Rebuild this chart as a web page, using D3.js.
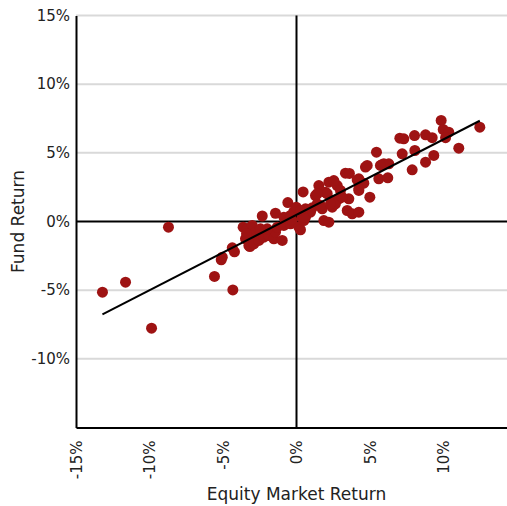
<!DOCTYPE html>
<html>
<head>
<meta charset="utf-8">
<script src="https://cdn.jsdelivr.net/npm/d3@7"></script>
<style>
  body { margin: 0; background: #fff; }
  text { font-family: "DejaVu Sans", Verdana, sans-serif; fill: #222; }
</style>
</head>
<body>
<script>
// market return (%) vs fund return (%)
let marketReturn = [
  -13.2, -11.63, -9.86, -8.71, -5.58, -4.33, -5.12, -5.05, -4.37, -4.22, -3.17,
  -3.63, -3.35, -3.01, -2.79, -3.13, -3.47, -3.24, -2.9, -2.56, -2.22, -1.88, -1.54, -0.97,
  -1.43, -1.99, -1.31, -0.86, -0.41, -2.45, -2.33, -1.43, -0.59, -0.18, -0.86, -0.41, -0.29, -3.4,
  0.16, 0.27, 0.5, 0.39, 0.61, 0.45, -0.02, 0.61, 0.73, 1.07, 0.95, 0.5, 0.27,
  1.52, 2.2, 2.77, 2.99, 1.29, 1.97, 2.43, 2.88, 3.56, 4.24, 1.41, 1.75, 2.43, 3.45, 3.79, 4.24,
  1.86, 2.2, 1.63, 2.09, 1.41, 2.65, 3.1, 2.31,
  3.33, 3.6, 4.69, 4.81, 5.83, 5.94, 6.28, 5.71, 7.87, 4.24, 4.58, 5.6, 6.21, 4.24, 4.99, 2.54,
  5.44, 4.13,
  9.84, 9.98, 10.36, 10.14, 12.47, 11.04, 7.03, 7.3, 8.03, 8.78, 9.23, 7.19, 8.05, 9.34, 8.78
]
let fundReturn = [
  -5.15, -4.42, -7.77, -0.41, -4.0, -4.98, -2.79, -2.6, -1.92, -2.21, -1.82,
  -0.41, -0.53, -0.29, -0.78, -1.02, -1.26, -1.75, -1.63, -1.38, -1.14, -1.02, -1.26, -1.38,
  -0.78, -0.53, -0.41, -0.29, -0.17, -0.53, 0.4, 0.6, 1.38, 0.73, 0.31, 0.44, 0.07, -0.9,
  -0.41, -0.6, 0.07, 0.27, 0.92, 2.15, 1.04, 0.31, 0.8, 1.0, 0.68, 0.31, 0.8,
  2.62, 2.86, 2.62, 2.26, 1.89, 2.13, 1.53, 1.65, 1.65, 2.26, 1.29, 0.92, 1.04, 0.8, 0.56, 0.68,
  0.07, -0.05, 1.17, 2.02, 2.02, 1.29, 1.77, 1.29,
  3.52, 3.5, 3.96, 4.08, 4.15, 4.2, 4.2, 4.08, 3.76, 3.11, 2.79, 3.11, 3.18, 2.38, 1.77, 2.98,
  5.05, 3.03,
  7.36, 6.7, 6.5, 6.1, 6.87, 5.34, 6.07, 6.02, 6.26, 6.31, 6.1, 4.93, 5.17, 4.81, 4.32
]
let xTicks = [-15, -10, -5, 0, 5, 10]
let yTicks = [-10, -5, 0, 5, 10, 15]

let width = 507,
    height = 506

let svg = d3.select("body").append("svg")
    .attr("width", width)
    .attr("height", height)

let x = d3.scaleLinear().domain([-15, 15]).range([76, 517])
let y = d3.scaleLinear().domain([-15, 15]).range([427.5, 15.5])

let points = marketReturn.map((d, i) => [d, fundReturn[i]])

// grid lines
svg.append("g")
    .selectAll("line")
    .data(yTicks.filter(d => d != 0))
    .enter()
    .append("line")
    .attr("x1", x(-15))
    .attr("x2", width)
    .attr("y1", d => y(d))
    .attr("y2", d => y(d))
    .attr("stroke", "#d9d9d9")
    .attr("stroke-width", 2)

// zero lines
svg.append("line")
    .attr("x1", x(-15)).attr("x2", width)
    .attr("y1", y(0)).attr("y2", y(0))
    .attr("stroke", "#000").attr("stroke-width", 2)
svg.append("line")
    .attr("x1", x(0)).attr("x2", x(0))
    .attr("y1", y(15)).attr("y2", y(-15))
    .attr("stroke", "#000").attr("stroke-width", 2)

// axes
let yAxis = svg.append("g")
    .attr("transform", `translate(${x(-15)},0)`)
    .call(d3.axisLeft(y).tickValues(yTicks).tickSize(0).tickPadding(6).tickFormat(d => d + "%"))
let xAxis = svg.append("g")
    .attr("transform", `translate(0,${y(-15)})`)
    .call(d3.axisBottom(x).tickValues(xTicks).tickSize(0).tickFormat(d => d + "%"))

yAxis.select(".domain").attr("stroke", "#000").attr("stroke-width", 2)
xAxis.select(".domain").attr("stroke", "#000").attr("stroke-width", 2)
yAxis.selectAll("text").attr("font-size", 15).attr("fill", "#222")
    .attr("font-family", "DejaVu Sans, Verdana, sans-serif")
xAxis.selectAll("text").attr("font-size", 15).attr("fill", "#222")
    .attr("font-family", "DejaVu Sans, Verdana, sans-serif")
    .attr("transform", "rotate(-90)")
    .attr("text-anchor", "end")
    .attr("x", -13)
    .attr("y", 0)
    .attr("dy", "0.35em")

// dots
svg.append("g")
    .selectAll("circle")
    .data(points)
    .enter()
    .append("circle")
    .attr("cx", d => x(d[0]))
    .attr("cy", d => y(d[1]))
    .attr("r", 5.5)
    .attr("fill", "#9e1313")

// least squares fit line from min to max market return
let mx = d3.mean(marketReturn),
    my = d3.mean(fundReturn)
let slope = d3.sum(points, d => (d[0] - mx) * (d[1] - my)) / d3.sum(points, d => (d[0] - mx) ** 2)
let intercept = my - slope * mx
let ext = d3.extent(marketReturn)

svg.append("line")
    .attr("x1", x(ext[0])).attr("y1", y(intercept + slope * ext[0]))
    .attr("x2", x(ext[1])).attr("y2", y(intercept + slope * ext[1]))
    .attr("stroke", "#000")
    .attr("stroke-width", 2)

// axis titles
svg.append("text")
    .attr("x", x(0))
    .attr("y", 500)
    .attr("text-anchor", "middle")
    .attr("font-size", 17)
    .text("Equity Market Return")

svg.append("text")
    .attr("transform", `translate(24,${y(0)}) rotate(-90)`)
    .attr("text-anchor", "middle")
    .attr("font-size", 17)
    .text("Fund Return")
</script>
</body>
</html>
